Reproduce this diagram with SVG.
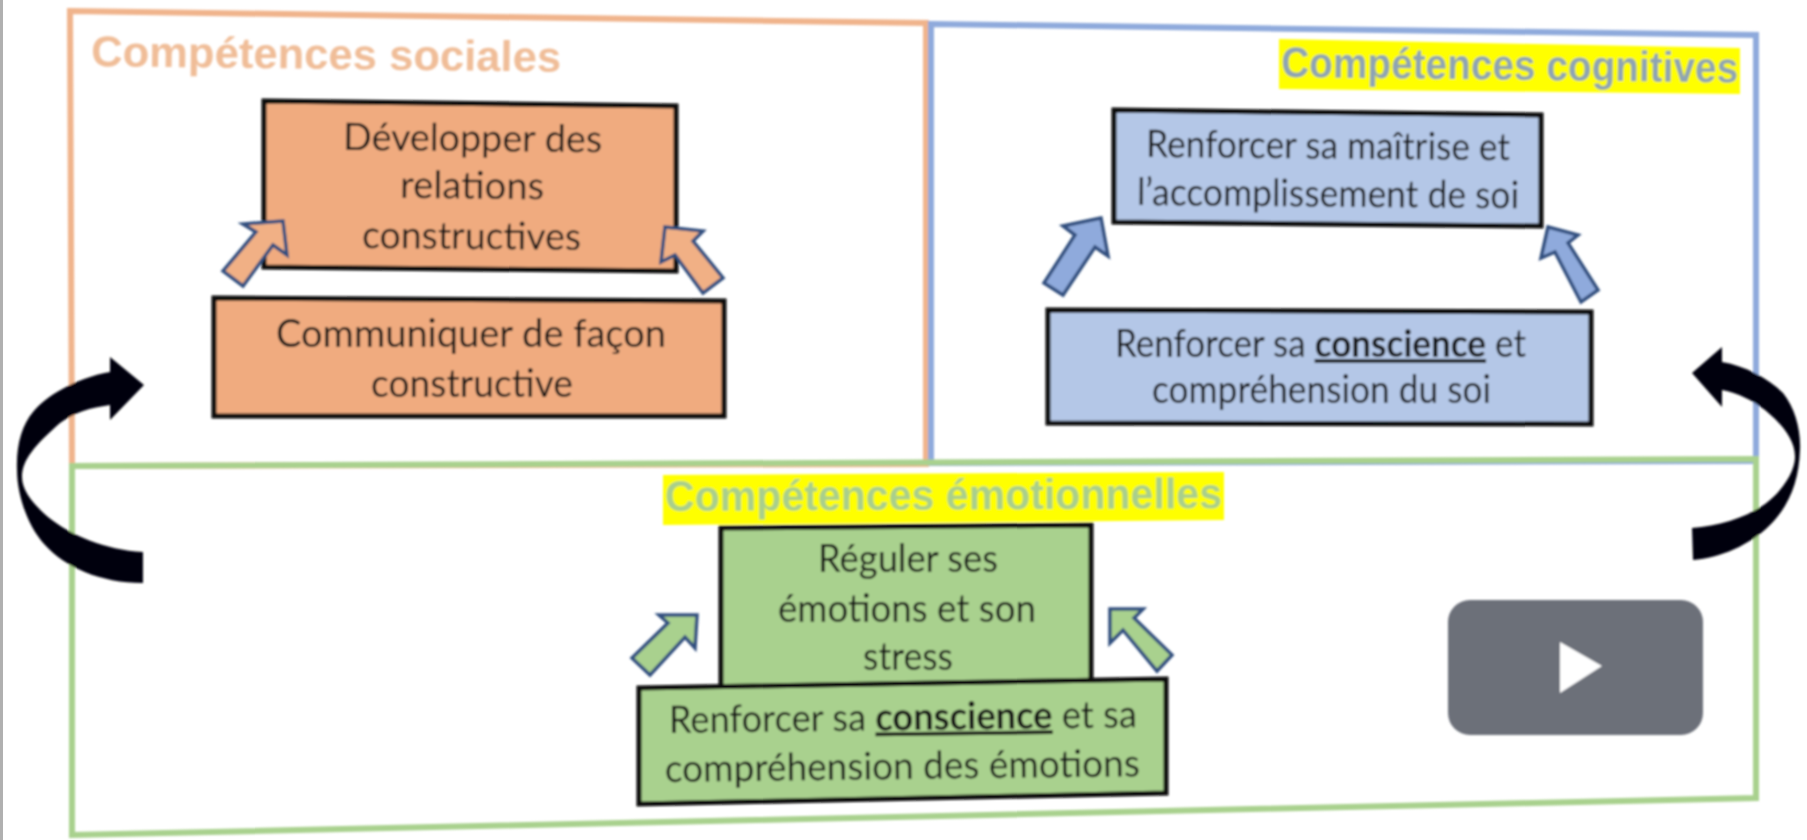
<svg xmlns="http://www.w3.org/2000/svg" width="1807" height="840" viewBox="0 0 1807 840">
<defs>
<filter id="soft" x="-2%" y="-2%" width="104%" height="104%"><feGaussianBlur stdDeviation="0.8"/></filter>
</defs>
<style>
.panel{fill:none;stroke-width:6}
.box{stroke:#0a0a0a;stroke-width:5;stroke-linejoin:miter}
.o{fill:#f0ab7f}.b{fill:#b4c7e7}.g{fill:#a9d18e}
.ar{stroke:#33507f;stroke-width:3.5;stroke-linejoin:miter}
.oa{fill:#f1b085}.ba{fill:#8faadc}.ga{fill:#a9d18e}
.t{font-family:"Lato","Open Sans",sans-serif;font-size:38px;fill:#141414}
.h{font-family:"Liberation Sans",Arial,sans-serif;font-weight:700;font-size:43px}
.bd{font-weight:700;text-decoration:underline}
.curve{fill:#02020f}
</style>
<rect width="1807" height="840" fill="#ffffff"/>
<rect x="0" y="0" width="3" height="840" fill="#b0b0b0"/>
<g filter="url(#soft)">
<g id="panel-sociales">
<polygon class="panel" points="70,11 926,23 926,464 72,466" stroke="#f0b48c"/>
<text class="h" x="91" y="66" fill="#f0bd98" textLength="470" lengthAdjust="spacingAndGlyphs" transform="rotate(0.7 91 66)">Compétences sociales</text>
</g>
<g id="panel-cognitives">
<polygon class="panel" points="931,24 1756,35 1756,461 931,463" stroke="#8faadc"/>
<polygon points="1279,39 1740,48 1740,94 1279,89" fill="#ffff00"/>
<text class="h" x="1281" y="77" fill="#8ea4b4" textLength="457" lengthAdjust="spacingAndGlyphs" transform="rotate(0.7 1281 77)">Compétences cognitives</text>
</g>
<g id="panel-emotionnelles">
<polygon class="panel" points="72,466 1756,459 1756,798 72,835" stroke="#a9d18e"/>
<polygon points="663,475 1224,472 1224,520 663,525" fill="#ffff00"/>
<text class="h" x="665" y="511" fill="#a9cf8c" textLength="557" lengthAdjust="spacingAndGlyphs" transform="rotate(-0.3 665 511)">Compétences émotionnelles</text>
</g>
<g id="node-developper">
<polygon class="box o" points="264,101 676,106 676,271 264,267"/>
<text class="t" x="343" y="150" textLength="259" lengthAdjust="spacingAndGlyphs" transform="rotate(0.5 343 150)">Développer des</text>
<text class="t" x="400" y="198" textLength="144" lengthAdjust="spacingAndGlyphs" transform="rotate(0.5 400 198)">relations</text>
<text class="t" x="362" y="248" textLength="219" lengthAdjust="spacingAndGlyphs" transform="rotate(0.5 362 248)">constructives</text>
</g>
<g id="node-communiquer">
<polygon class="box o" points="214,298 724,301 724,416 214,416"/>
<text class="t" x="276" y="347" textLength="390" lengthAdjust="spacingAndGlyphs">Communiquer de façon</text>
<text class="t" x="371" y="397" textLength="202" lengthAdjust="spacingAndGlyphs">constructive</text>
</g>
<g id="node-maitrise">
<polygon class="box b" points="1114,110 1541,115 1541,226 1114,222"/>
<text class="t" x="1146" y="157" textLength="364" lengthAdjust="spacingAndGlyphs" transform="rotate(0.5 1146 157)">Renforcer sa maîtrise et</text>
<text class="t" x="1137" y="205" textLength="382" lengthAdjust="spacingAndGlyphs" transform="rotate(0.5 1137 205)">l’accomplissement de soi</text>
</g>
<g id="node-conscience-soi">
<polygon class="box b" points="1048,310 1591,312 1591,424 1048,423"/>
<text class="t" x="1115" y="357" textLength="411" lengthAdjust="spacingAndGlyphs">Renforcer sa <tspan class="bd">conscience</tspan> et</text>
<text class="t" x="1152" y="403" textLength="339" lengthAdjust="spacingAndGlyphs">compréhension du soi</text>
</g>
<g id="node-reguler">
<polygon class="box g" points="721,528 1091,525 1091,684 721,688"/>
<text class="t" x="818" y="572" textLength="180" lengthAdjust="spacingAndGlyphs">Réguler ses</text>
<text class="t" x="778" y="622" textLength="258" lengthAdjust="spacingAndGlyphs">émotions et son</text>
<text class="t" x="863" y="670" textLength="90" lengthAdjust="spacingAndGlyphs">stress</text>
</g>
<g id="node-conscience-emotions">
<polygon class="box g" points="639,688 1166,679 1166,793 639,804"/>
<text class="t" x="669" y="733" textLength="468" lengthAdjust="spacingAndGlyphs" transform="rotate(-0.7 669 733)">Renforcer sa <tspan class="bd">conscience</tspan> et sa</text>
<text class="t" x="665" y="782" textLength="475" lengthAdjust="spacingAndGlyphs" transform="rotate(-0.7 665 782)">compréhension des émotions</text>
</g>
<g id="connectors">
<polygon class="ar oa" points="283,221 243,224 256,232 223,271 243,286 273,245 287,255"/>
<polygon class="ar oa" points="665,227 703,231 693,241 723,278 703,293 675,255 661,262"/>
<polygon class="ar ba" points="1101,218 1063,226 1075,235 1044,283 1063,295 1095,247 1108,256"/>
<polygon class="ar ba" points="1548,227 1578,235 1568,243 1598,290 1581,302 1555,252 1541,258"/>
<polygon class="ar ga" points="697,615 659,615 668,623 632,658 650,675 685,637 695,648"/>
<polygon class="ar ga" points="1110,609 1143,609 1134,618 1172,655 1157,671 1123,630 1110,643"/>
<path class="curve" d="M144,385 L110,357 L110,372 C75,378 45,397 33,412 C22,425 16,445 17,470 C17,495 28,527 45,545 C65,567 100,583 143,583 L143,552 C105,550 70,535 48,517 C32,503 22,490 22,477 C22,460 35,445 60,423 C75,412 90,408 110,405 L110,420 Z"/>
<path class="curve" d="M1692,373 L1722,347 L1722,362 C1745,366 1768,378 1783,393 C1795,408 1801,430 1800,450 C1799,480 1790,505 1770,525 C1750,545 1720,558 1693,560 L1692,528 C1720,526 1750,517 1770,500 C1785,487 1795,470 1795,457 C1795,440 1783,425 1765,410 C1752,400 1738,393 1722,390 L1722,407 Z"/>
</g>
<g id="play-button">
<rect x="1448" y="600" width="255" height="135" rx="22" fill="#6c7079"/>
<polygon points="1560,642 1602,666 1560,693" fill="#ffffff"/>
</g>
</g>
</svg>
